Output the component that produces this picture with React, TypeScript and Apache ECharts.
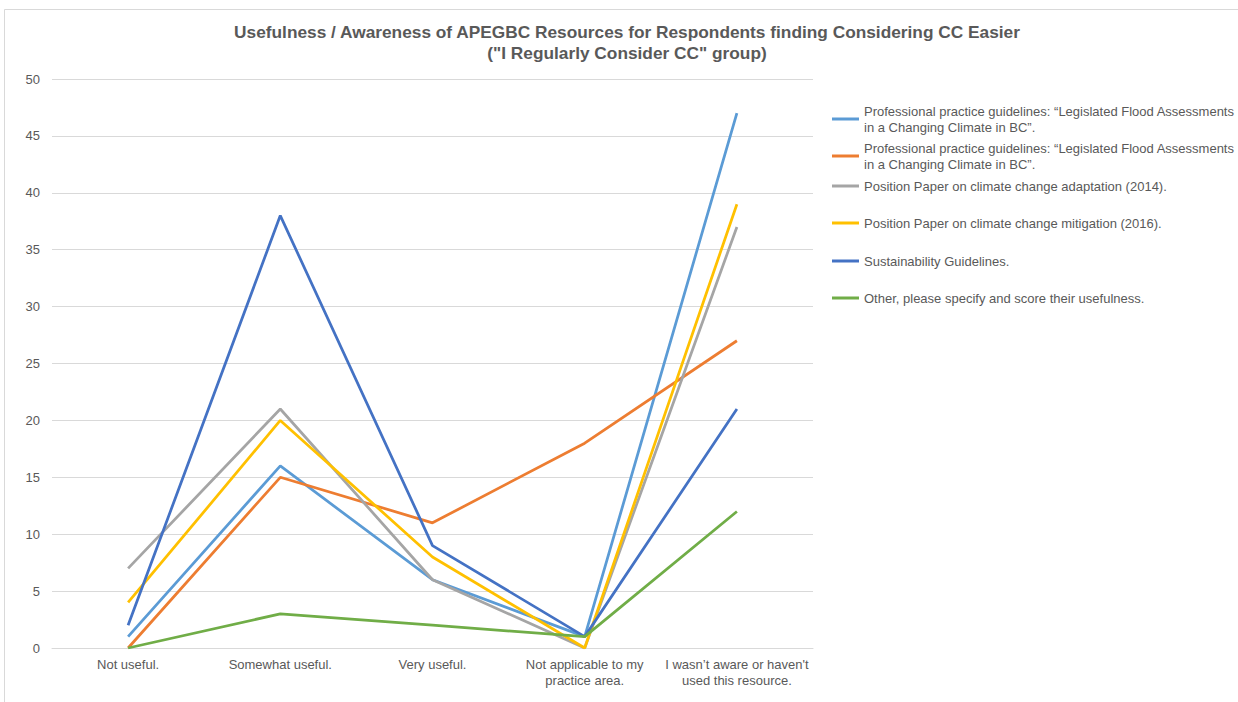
import React, { useEffect, useRef } from "react";
import * as echarts from "echarts";

const categories = [
  "Not useful.",
  "Somewhat useful.",
  "Very useful.",
  "Not applicable to my\npractice area.",
  "I wasn’t aware or haven't\nused this resource.",
];

const seriesNames = [
  "Professional practice guidelines: “Legislated Flood Assessments in a Changing Climate in BC”.",
  "Professional practice guidelines: “Legislated Flood Assessments in a Changing Climate in BC”.\u200B",
  "Position Paper on climate change adaptation (2014).",
  "Position Paper on climate change mitigation (2016).",
  "Sustainability Guidelines.",
  "Other, please specify and score their usefulness.",
];

const floodA = [1, 16, 6, 1, 47];
const floodB = [0, 15, 11, 18, 27];
const adaptation = [7, 21, 6, 0, 37];
const mitigation = [4, 20, 8, 0, 39];
const sustainability = [2, 38, 9, 1, 21];
const other = [0, 3, 2, 1, 12];

const seriesData = [floodA, floodB, adaptation, mitigation, sustainability, other];
const colors = ["#5B9BD5", "#ED7D31", "#A5A5A5", "#FFC000", "#4472C4", "#70AD47"];
const legendTops = [103, 140, 178, 215, 253, 290];

const wrapLegend = (name: string) =>
  name
    .replace("\u200B", "")
    .replace("Assessments in a", "Assessments\nin a");

export default function App() {
  const ref = useRef<HTMLDivElement>(null);
  useEffect(() => {
    if (!ref.current) return;
    const chart = echarts.init(ref.current, null, { renderer: "svg" });
    const font = "'Liberation Sans', Arial, sans-serif";
    chart.setOption({
      animation: false,
      backgroundColor: "#ffffff",
      textStyle: { fontFamily: font },
      title: {
        text: "Usefulness / Awareness of APEGBC Resources for Respondents finding Considering CC Easier\n(\"I Regularly Consider CC\" group)",
        left: 627,
        textAlign: "center",
        top: 21,
        padding: 0,
        textStyle: {
          fontFamily: font,
          fontSize: 17.3,
          fontWeight: "bold",
          color: "#595959",
          lineHeight: 21,
        },
      },
      graphic: [
        {
          type: "rect",
          shape: { x: 4.5, y: 9.5, width: 1400, height: 900 },
          style: { fill: "none", stroke: "#D9D9D9", lineWidth: 1 },
          silent: true,
        },
      ],
      legend: seriesNames.map((n, i) => ({
        data: [n],
        orient: "vertical",
        left: 832,
        top: legendTops[i],
        padding: 0,
        icon: "rect",
        itemWidth: 27,
        itemHeight: 3,
        selectedMode: false,
        formatter: wrapLegend,
        textStyle: { fontFamily: font, fontSize: 13, color: "#595959", lineHeight: 16 },
      })),
      grid: { left: 52, right: 425, top: 79, bottom: 54 },
      xAxis: {
        type: "category",
        data: categories,
        boundaryGap: true,
        axisLine: { lineStyle: { color: "#D9D9D9", width: 1 } },
        axisTick: { show: false },
        axisLabel: { color: "#595959", fontSize: 13, margin: 8, interval: 0, lineHeight: 16, fontFamily: font },
      },
      yAxis: {
        type: "value",
        min: 0,
        max: 50,
        interval: 5,
        axisLine: { show: false },
        axisTick: { show: false },
        axisLabel: { color: "#595959", fontSize: 13, margin: 12, fontFamily: font },
        splitLine: { lineStyle: { color: "#D9D9D9", width: 1 } },
      },
      series: seriesNames.map((n, i) => ({
        name: n,
        type: "line",
        data: seriesData[i],
        showSymbol: false,
        symbol: "none",
        lineStyle: { color: colors[i], width: 2.75 },
        itemStyle: { color: colors[i] },
      })),
    });
    return () => chart.dispose();
  }, []);
  return (
    <div
      ref={ref}
      style={{ position: "fixed", left: 0, top: 0, width: 1238, height: 702 }}
    />
  );
}
